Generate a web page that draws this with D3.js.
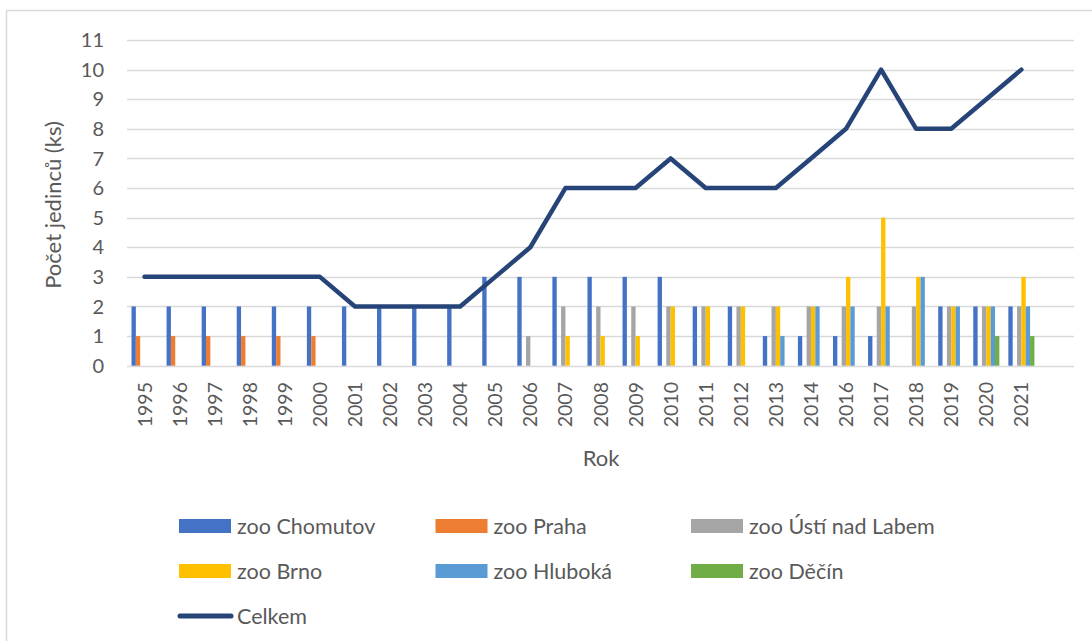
<!DOCTYPE html>
<html><head><meta charset="utf-8">
<script src="https://cdn.jsdelivr.net/npm/d3@7"></script>
<style>
html,body{margin:0;padding:0;background:#fff;}
svg{display:block;font-family:Lato, "Open Sans", sans-serif;}
</style></head>
<body>
<svg id="c" width="1092" height="641"></svg>
<script>
const years = ["1995","1996","1997","1998","1999","2000","2001","2002","2003","2004","2005","2006","2007","2008","2009","2010","2011","2012","2013","2014","2016","2017","2018","2019","2020","2021",""];
const seriesNames = ["zoo Chomutov","zoo Praha","zoo Ústí nad Labem","zoo Brno","zoo Hluboká","zoo Děčín"];
const colors = ["#4472C4","#ED7D31","#A5A5A5","#FFC000","#5B9BD5","#70AD47"];
const chomutov = [2,2,2,2,2,2,2,2,2,2,3,3,3,3,3,3,2,2,1,1,1,1,0,2,2,2,null];
const praha    = [1,1,1,1,1,1,0,0,0,0,0,0,0,0,0,0,0,0,0,0,0,0,0,0,0,0,null];
const usti     = [0,0,0,0,0,0,0,0,0,0,0,1,2,2,2,2,2,2,2,2,2,2,2,2,2,2,null];
const brno     = [0,0,0,0,0,0,0,0,0,0,0,0,1,1,1,2,2,2,2,2,3,5,3,2,2,3,null];
const hluboka  = [0,0,0,0,0,0,0,0,0,0,0,0,0,0,0,0,0,0,1,2,2,2,3,2,2,2,null];
const decin    = [0,0,0,0,0,0,0,0,0,0,0,0,0,0,0,0,0,0,0,0,0,0,0,0,1,1,null];
const celkem   = [3,3,3,3,3,3,2,2,2,2,3,4,6,6,6,7,6,6,6,7,8,10,8,8,9,10,null];
const yTicks = [0,1,2,3,4,5,6,7,8,9,10,11];
const seriesValues = [chomutov,praha,usti,brno,hluboka,decin];

const svg = d3.select("#c");
const textColor = "#595959";

// chart border
svg.append("rect").attr("x",6.5).attr("y",10.5).attr("width",1100).attr("height",700)
  .attr("fill","none").attr("stroke","#d9d9d9").attr("stroke-width",1.5);

const x = d3.scaleBand().domain(years.map((d,i)=>i)).range([127,1074]).paddingInner(0).paddingOuter(0);
const xs = d3.scaleBand().domain(seriesNames).range([4.5, x.bandwidth()-4.5]).padding(0);
const y = d3.scaleLinear().domain([0,11]).range([365.7,40]);

// gridlines
svg.append("g").selectAll("line").data(yTicks).join("line")
  .attr("x1",127).attr("x2",1074)
  .attr("y1",d=>Math.round(y(d))+0.5).attr("y2",d=>Math.round(y(d))+0.5)
  .attr("stroke","#d9d9d9").attr("stroke-width",1.3);

// y tick labels
svg.append("g").selectAll("text").data(yTicks).join("text")
  .attr("x",104).attr("y",d=>y(d)).attr("dy","0.36em")
  .attr("text-anchor","end").attr("fill",textColor).attr("font-size",20)
  .text(d=>d);

// bars
const barG = svg.append("g");
seriesNames.forEach((s,si)=>{
  barG.append("g").selectAll("rect").data(seriesValues[si].map((v,i)=>({v,i})).filter(d=>d.v))
    .join("rect")
    .attr("x",d=>x(d.i)+xs(s))
    .attr("width",xs.bandwidth())
    .attr("y",d=>y(d.v))
    .attr("height",d=>y(0)-y(d.v))
    .attr("fill",colors[si]);
});

// line
const pts = celkem.map((v,i)=>({v,i})).filter(d=>d.v!==null);
svg.append("path").datum(pts)
  .attr("d",d3.line().x(d=>x(d.i)+x.bandwidth()/2).y(d=>y(d.v)))
  .attr("fill","none").attr("stroke","#264478").attr("stroke-width",4.5)
  .attr("stroke-linecap","round").attr("stroke-linejoin","round");

// x labels
svg.append("g").selectAll("text").data(years.map((d,i)=>({d,i}))).join("text")
  .attr("transform",d=>`translate(${x(d.i)+x.bandwidth()/2},382) rotate(-90)`)
  .attr("text-anchor","end").attr("dy","0.36em")
  .attr("fill",textColor).attr("font-size",19.5).text(d=>d.d);

// axis titles
svg.append("text").attr("x",601).attr("y",458).attr("dy","0.35em")
  .attr("text-anchor","middle").attr("fill",textColor).attr("font-size",22).text("Rok");
svg.append("text").attr("transform","translate(53,205) rotate(-90)").attr("dy","0.35em")
  .attr("text-anchor","middle").attr("fill",textColor).attr("font-size",22).text("Počet jedinců (ks)");

// legend
const legX = [179,435.5,691];
const legY = [526,571];
seriesNames.forEach((s,i)=>{
  const cx = legX[i%3], cy = legY[Math.floor(i/3)];
  svg.append("rect").attr("x",cx).attr("y",cy-7).attr("width",52).attr("height",14).attr("fill",colors[i]);
  svg.append("text").attr("x",cx+58).attr("y",cy).attr("dy","0.35em")
    .attr("fill",textColor).attr("font-size",21.5).text(s);
});
svg.append("line").attr("x1",180).attr("x2",231).attr("y1",616).attr("y2",616)
  .attr("stroke","#264478").attr("stroke-width",5).attr("stroke-linecap","round");
svg.append("text").attr("x",237).attr("y",616).attr("dy","0.35em")
  .attr("fill",textColor).attr("font-size",21.5).text("Celkem");
</script>
</body></html>
